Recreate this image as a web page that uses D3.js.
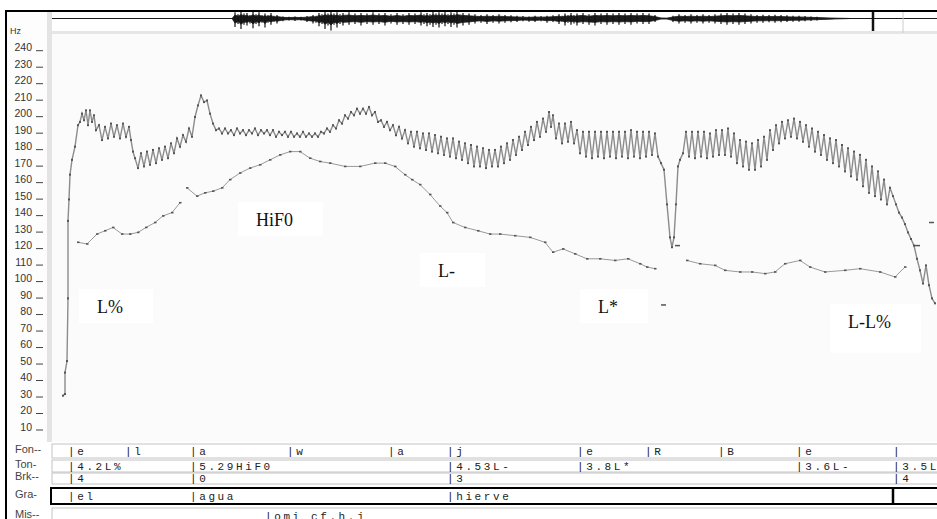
<!DOCTYPE html>
<html>
<head>
<meta charset="utf-8">
<script src="https://cdn.jsdelivr.net/npm/d3@7"></script>
<style>
  body { margin: 0; background: #fff; }
  svg { display: block; }
</style>
</head>
<body>
<div id="chart"></div>
<script>

// Hz axis tick values
var hzTicks = [10, 20, 30, 40, 50, 60, 70, 80, 90, 100, 110, 120, 130, 140, 150, 160, 170, 180, 190, 200, 210, 220, 230, 240];

// time in ms, F0 in Hz (raw pitch track, jagged)
var f0Raw = [
  [22,29],[26,30],[26,43],[30,50],[32,88],[32,135],[34,148],[36,163],[40,172],[46,180],[52,193],[56,195],[60,200],[64,196],[68,202],[72,193],[76,202],[80,195],[84,199],[88,190],[94,193],[100,184],[106,192],[112,185],[118,194],[124,186],[130,193],[136,185],[142,194],[148,186],[154,192],[158,184],[162,177],[166,173],[172,167],[178,176],[184,168],[190,177],[196,169],[202,178],[208,170],[214,179],[220,172],[226,180],[232,173],[238,182],[244,176],[250,185],[256,180],[262,187],[268,183],[274,191],[280,186],[286,198],[292,205],[298,211],[304,207],[310,208],[316,200],[322,194],[328,190],
  [334,191],[340,188],[346,191],[352,188],[358,190],[364,187],[370,191],[376,188],[382,190],[388,187],[394,190],[400,188],[406,191],[412,187],[418,190],[424,188],[430,190],[436,187],[442,190],[448,186],[454,189],[460,187],[466,189],[472,186],[478,189],[484,186],[490,188],[496,186],[502,189],[508,186],[514,188],[520,186],[526,188],[532,186],[538,189],
  [544,188],[550,191],[556,189],[562,193],[568,191],[574,196],[580,194],[586,199],[592,197],[598,201],[604,199],[610,203],[616,200],[622,203],[628,200],[634,204],[640,199],[646,201],[652,195],[658,196],[664,192],[670,195],[676,190],[682,193],[688,187],[694,192],[700,185],[706,190],[712,182],[718,189],[724,180],[730,189],[736,179],[742,188],[748,178],[754,188],[760,177],[766,187],[772,176],[778,186],[784,175],[790,185],[796,174],[802,185],[808,173],[814,183],[820,172],[826,182],[832,170],[838,181],[844,168],[850,180],[856,168],[862,179],[868,167],[874,178],[880,168],[886,178],[892,168],[898,180],[904,170],[910,182],[916,172],[922,184],[928,175],[934,186],[940,178],[946,189],[952,181],[958,192],[964,184],[970,195],[976,186],[982,197],[988,189],[994,201],
  [998,192],[1002,199],[1008,185],[1014,194],[1020,182],[1026,194],[1032,183],[1038,195],[1044,182],[1050,190],[1056,176],[1062,189],[1068,174],[1074,189],[1080,173],[1086,189],[1092,174],[1098,189],[1104,173],[1110,189],[1116,174],[1122,189],[1128,173],[1134,189],[1140,174],[1146,189],[1152,173],[1158,190],[1164,174],[1170,189],[1176,173],[1182,189],[1188,174],[1194,189],[1200,175],[1206,188],[1212,174],
  [1218,170],[1224,166],[1230,145],[1236,125],[1240,119],[1244,125],[1248,145],[1252,168],[1256,172],[1262,176],
  [1268,189],[1274,174],[1280,189],[1286,173],[1292,189],[1298,174],[1304,189],[1310,173],[1316,188],[1322,174],[1328,190],[1334,175],[1340,190],[1346,175],[1352,191],[1358,174],[1364,188],[1370,170],[1376,184],[1382,168],[1388,183],[1394,166],[1400,182],[1406,166],[1412,184],[1418,168],[1424,186],[1430,172],[1436,190],[1442,178],[1448,193],[1454,182],[1460,195],[1466,185],[1472,196],[1478,186],[1484,197],[1490,185],[1496,195],[1502,183],[1508,193],[1514,180],[1520,191],[1526,177],[1532,189],[1538,175],[1544,187],[1550,172],[1556,185],[1562,170],[1568,184],[1574,168],[1580,181],[1586,165],[1592,179],[1598,162],[1604,177],[1610,160],[1616,175],[1622,156],[1628,172],[1634,152],[1640,168],[1646,150],[1652,165],[1658,148],[1664,160],[1670,145],[1676,155],[1682,150],[1688,145],[1694,140],[1700,137],[1706,133],[1712,128],[1718,124],[1724,120],[1730,112],[1736,105],[1742,97],[1748,108],[1754,96],[1760,88],[1766,85]
];

// smoothed F0 (stylised contour), three voiced stretches
var f0SmoothA = [[52,122],[70,121],[90,127],[106,129],[122,131],[140,127],[156,127],[172,128],[188,131],[206,134],[222,138],[240,140],[256,146]];
var f0SmoothB = [[270,155],[290,150],[306,152],[322,153],[340,155],[356,160],[376,164],[396,167],[416,169],[436,172],[456,175],[476,177],[496,177],[516,173],[536,171],[556,170],[586,168],[616,168],[646,170],[666,170],[686,168],[706,163],[720,160],[736,157],[756,151],[776,144],[790,140],[802,134],[826,131],[852,129],[876,127],[896,127],[926,126],[956,125],[986,122],[1002,116],[1022,118],[1046,115],[1070,112],[1096,112],[1126,111],[1152,112],[1176,109],[1190,107],[1206,106]];
var f0SmoothC = [[1270,111],[1296,109],[1326,108],[1346,105],[1376,104],[1400,104],[1426,103],[1446,104],[1466,109],[1496,111],[1516,107],[1546,104],[1586,105],[1616,106],[1656,104],[1686,101],[1706,107]];

// isolated pitch points
var f0Stray = [[1222,84],[1250,120],[1730,120],[1758,134]];

// waveform envelope: time ms, max, min (relative amplitude)
var waveEnv = [
  [0,0,0],[360,0,0],[366,0.9,-1.2],[372,0.6,-0.8],[378,1.0,-1.5],[384,0.7,-0.9],[390,0.8,-1.0],[396,0.5,-0.7],[402,1.0,-1.4],[408,0.6,-0.8],[414,0.9,-1.1],[420,0.5,-0.6],[426,0.7,-1.3],[432,0.5,-0.6],[438,0.8,-0.9],[444,0.4,-0.5],[450,0.5,-0.7],[462,0.3,-0.4],[474,0.25,-0.3],[486,0.3,-0.35],[498,0.25,-0.3],[510,0.35,-0.5],[522,0.5,-0.7],[528,0.4,-0.6],[534,0.8,-1.1],[540,0.6,-0.8],[546,1.0,-1.5],[552,0.7,-1.0],[558,1.0,-1.7],[564,0.7,-0.9],[570,0.9,-1.3],[576,0.6,-0.8],[582,0.8,-1.0],[594,0.9,-0.9],[606,0.7,-0.8],[618,0.8,-1.0],[630,0.7,-0.8],[642,0.9,-0.9],[654,0.7,-0.8],[666,0.8,-1.0],[678,0.6,-0.7],[690,0.8,-0.9],[702,0.6,-0.8],[714,0.8,-0.9],[726,0.7,-0.8],[738,0.9,-1.0],[744,0.6,-0.8],[750,0.8,-1.1],[756,0.6,-0.9],[762,1.0,-1.2],[768,0.7,-0.9],[774,0.9,-1.3],[780,0.7,-0.8],[786,1.0,-1.1],[792,0.6,-0.8],[798,0.9,-1.2],[804,0.7,-0.9],[810,1.0,-1.3],[822,0.8,-1.0],[834,0.7,-0.9],[846,0.6,-0.7],[858,0.5,-0.6],[870,0.6,-0.8],[882,0.5,-0.6],[894,0.6,-0.7],[906,0.5,-0.6],[918,0.45,-0.55],[930,0.4,-0.5],[942,0.35,-0.4],[954,0.3,-0.45],[966,0.4,-0.5],[978,0.35,-0.4],[990,0.4,-0.6],[1002,0.45,-0.5],[1014,0.6,-0.8],[1020,0.4,-0.5],[1026,0.7,-1.0],[1032,0.5,-0.6],[1038,0.8,-0.9],[1044,0.5,-0.7],[1050,0.7,-1.0],[1062,0.8,-0.8],[1074,0.6,-0.9],[1086,0.8,-1.0],[1098,0.7,-0.8],[1110,0.8,-0.9],[1122,0.7,-0.8],[1134,0.8,-0.9],[1146,0.7,-0.8],[1158,0.8,-0.9],[1170,0.7,-0.7],[1182,0.8,-0.8],[1194,0.7,-0.8],[1206,0.5,-0.5],[1218,0.15,-0.15],[1230,0.1,-0.15],[1242,0.4,-0.5],[1254,0.6,-0.7],[1266,0.5,-0.6],[1278,0.6,-0.7],[1290,0.5,-0.6],[1302,0.6,-0.7],[1314,0.5,-0.6],[1326,0.6,-0.7],[1338,0.7,-0.8],[1350,0.8,-0.9],[1362,0.7,-0.8],[1374,0.8,-0.9],[1386,0.7,-0.8],[1398,0.6,-0.7],[1410,0.5,-0.6],[1422,0.55,-0.6],[1434,0.5,-0.55],[1446,0.55,-0.6],[1458,0.5,-0.55],[1470,0.45,-0.5],[1482,0.4,-0.45],[1494,0.4,-0.45],[1506,0.35,-0.4],[1518,0.3,-0.35],[1530,0.25,-0.3],[1542,0.2,-0.25],[1554,0.15,-0.2],[1566,0.1,-0.12],[1578,0.06,-0.08],[1590,0.03,-0.04],[1596,0,0],[1770,0,0]
];

// cursors in the waveform panel (ms)
var cursorThick = [1642];
var cursorThin = [1702];

// labelling tiers: [time ms, label]
var tierNames = ["Fon--", "Ton-", "Brk--", "Gra-", "Mis--"];
var fonItems = [[32,"e"],[146,"l"],[276,"a"],[470,"w"],[672,"a"],[790,"j"],[1050,"e"],[1186,"R"],[1332,"B"],[1488,"e"],[1682,""]];
var tonItems = [[32,"4.2L%"],[276,"5.29HiF0"],[790,"4.53L-"],[1050,"3.8L*"],[1488,"3.6L-"],[1682,"3.5L-L%"]];
var brkItems = [[32,"4"],[276,"0"],[790,"3"],[1682,"4"]];
var graItems = [[32,"el"],[276,"agua"],[790,"hierve"]];
var graEnd = [1682];
var misItems = [[426,"omi_cf.h.j"]];

// tone labels on the plot: text, time ms, Hz (baseline start)
var toneLabels = [["L%", 90, 79], ["HiF0", 408, 132], ["L-", 772, 101], ["L*", 1092, 79], ["L-L%", 1592, 70]];

var W = 937, H = 519;

var svg = d3.select("#chart").append("svg")
    .attr("width", W)
    .attr("height", H)
    .style("font-family", "'Liberation Sans', Arial, sans-serif");

var x = d3.scaleLinear().domain([0, 1770]).range([52, 937]);
var y = d3.scaleLinear().domain([10, 240]).range([427, 47.7]);
var wy = d3.scaleLinear().domain([-1, 1]).range([25.5, 11.5]);

// background panels
svg.append("rect").attr("x", 0).attr("y", 0).attr("width", W).attr("height", H).attr("fill", "#fff");
svg.append("rect").attr("x", 52).attr("y", 33).attr("width", W - 52).attr("height", 409).attr("fill", "#fbfbfb");
svg.append("rect").attr("x", 7).attr("y", 12).attr("width", 41).attr("height", 430).attr("fill", "#fdfdfd");
svg.append("rect").attr("x", 47).attr("y", 12).attr("width", 5).attr("height", 430).attr("fill", "#e4e4e4");
svg.append("rect").attr("x", 52).attr("y", 31).attr("width", W - 52).attr("height", 3).attr("fill", "#e6e6e6");

// waveform
svg.append("line")
    .attr("x1", 52).attr("x2", W).attr("y1", wy(0)).attr("y2", wy(0))
    .attr("stroke", "#333").attr("stroke-width", 1);

// dense core of the signal
var waveCore = d3.area()
    .x(function(d) { return x(d[0]); })
    .y0(function(d) { return wy(d[2] * 0.55); })
    .y1(function(d) { return wy(d[1] * 0.55); });

svg.append("path")
    .datum(waveEnv)
    .attr("d", waveCore)
    .attr("fill", "#1a1a1a")
    .attr("stroke", "#1a1a1a")
    .attr("stroke-width", 0.8);

// peaks drawn as spikes
svg.selectAll(".wavespike")
    .data(waveEnv.filter(function(d) { return d[1] > 0.2; }))
  .enter().append("line")
    .attr("x1", function(d) { return x(d[0]); })
    .attr("x2", function(d) { return x(d[0]); })
    .attr("y1", function(d) { return wy(d[2]); })
    .attr("y2", function(d) { return wy(d[1]); })
    .attr("stroke", "#111").attr("stroke-width", 1.2);

svg.selectAll(".cthick")
    .data(cursorThick)
  .enter().append("line")
    .attr("x1", function(d) { return x(d); }).attr("x2", function(d) { return x(d); })
    .attr("y1", 12).attr("y2", 31)
    .attr("stroke", "#111").attr("stroke-width", 2.5);

svg.selectAll(".cthin")
    .data(cursorThin)
  .enter().append("line")
    .attr("x1", function(d) { return x(d); }).attr("x2", function(d) { return x(d); })
    .attr("y1", 12).attr("y2", 33)
    .attr("stroke", "#ccc").attr("stroke-width", 1);

// Hz axis
svg.append("text").attr("x", 10).attr("y", 34).text("Hz")
    .attr("font-size", 9).attr("fill", "#333");

var ticks = svg.selectAll(".hztick")
    .data(hzTicks)
  .enter().append("g")
    .attr("transform", function(d) { return "translate(0," + y(d) + ")"; });

ticks.append("text")
    .attr("x", 32).attr("y", 3.5)
    .attr("text-anchor", "end")
    .attr("font-size", 10.5)
    .attr("fill", "#333")
    .text(function(d) { return d; });

ticks.append("line")
    .attr("x1", 36).attr("x2", 43).attr("y1", 3).attr("y2", 3)
    .attr("stroke", "#444").attr("stroke-width", 1);

// F0 curves
var line = d3.line()
    .x(function(d) { return x(d[0]); })
    .y(function(d) { return y(d[1]); });

svg.append("path")
    .datum(f0Raw)
    .attr("d", line)
    .attr("fill", "none")
    .attr("stroke", "#8c8c8c")
    .attr("stroke-width", 1.4);

svg.selectAll(".rawpt")
    .data(f0Raw)
  .enter().append("rect")
    .attr("x", function(d) { return x(d[0]) - 1; })
    .attr("y", function(d) { return y(d[1]) - 1; })
    .attr("width", 2).attr("height", 2)
    .attr("fill", "#555");

[f0SmoothA, f0SmoothB, f0SmoothC].forEach(function(seg) {
  svg.append("path")
      .datum(seg)
      .attr("d", line)
      .attr("fill", "none")
      .attr("stroke", "#9a9a9a")
      .attr("stroke-width", 1);

  svg.selectAll(null)
      .data(seg)
    .enter().append("rect")
      .attr("x", function(d) { return x(d[0]) - 1; })
      .attr("y", function(d) { return y(d[1]) - 0.8; })
      .attr("width", 2.5).attr("height", 1.6)
      .attr("fill", "#555");
});

svg.selectAll(".stray")
    .data(f0Stray)
  .enter().append("line")
    .attr("x1", function(d) { return x(d[0]) - 2; })
    .attr("x2", function(d) { return x(d[0]) + 3; })
    .attr("y1", function(d) { return y(d[1]); })
    .attr("y2", function(d) { return y(d[1]); })
    .attr("stroke", "#555").attr("stroke-width", 1.5);

// tone labels with white boxes behind them
var lab = svg.selectAll(".tonelab")
    .data(toneLabels)
  .enter().append("g");

var boxes = lab.append("rect").attr("fill", "#fff");

lab.append("text")
    .attr("x", function(d) { return x(d[1]); })
    .attr("y", function(d) { return y(d[2]); })
    .attr("font-family", "'Liberation Serif', 'Times New Roman', serif")
    .attr("font-size", 18)
    .attr("fill", "#111")
    .text(function(d) { return d[0]; });

boxes.each(function(d, i) {
  var tw = this.parentNode.querySelector("text").getComputedTextLength();
  d3.select(this)
      .attr("x", x(d[1]) - 18)
      .attr("y", y(d[2]) - 24)
      .attr("width", tw + 48)
      .attr("height", i === 4 ? 49 : 34);
});

// outer frame
svg.append("line").attr("x1", 6).attr("x2", 6).attr("y1", 11).attr("y2", H)
    .attr("stroke", "#000").attr("stroke-width", 2);
svg.append("line").attr("x1", 5).attr("x2", W).attr("y1", 11).attr("y2", 11)
    .attr("stroke", "#000").attr("stroke-width", 2);

// labelling tiers
var tierRows = [
  {top: 444, h: 14, base: 455, items: fonItems},
  {top: 460, h: 12, base: 470, items: tonItems},
  {top: 473, h: 11, base: 482, items: brkItems},
  {top: 488, h: 16, base: 500, items: graItems},
  {top: 508, h: 14, base: 520, items: misItems}
];

tierRows.forEach(function(r, i) {
  svg.append("text")
      .attr("x", 15).attr("y", r.base - 2)
      .attr("font-size", 11).attr("fill", "#444")
      .text(tierNames[i]);

  svg.append("rect")
      .attr("x", i === 3 ? 51 : 52).attr("y", r.top)
      .attr("width", W).attr("height", r.h)
      .attr("fill", "#fff")
      .attr("stroke", i === 3 ? "#000" : "#c4c4c4")
      .attr("stroke-width", i === 3 ? 2 : 1);

  svg.selectAll(null)
      .data(r.items)
    .enter().append("text")
      .attr("x", function(d) { return x(d[0]); })
      .attr("y", r.base)
      .attr("font-family", "'Liberation Mono', 'Courier New', monospace")
      .attr("font-size", 11)
      .attr("letter-spacing", 2.6)
      .attr("fill", "#222")
      .text(function(d) { return "|" + d[1]; });
});

svg.selectAll(".graend")
    .data(graEnd)
  .enter().append("line")
    .attr("x1", function(d) { return x(d); }).attr("x2", function(d) { return x(d); })
    .attr("y1", 489).attr("y2", 503)
    .attr("stroke", "#000").attr("stroke-width", 2.5);

</script>
</body>
</html>
